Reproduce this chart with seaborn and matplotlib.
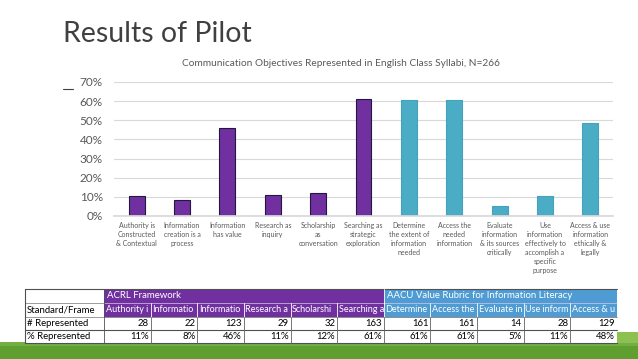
import matplotlib
matplotlib.use("Agg")
import matplotlib.pyplot as plt
import seaborn as sns
import pandas as pd
from matplotlib.patches import Rectangle
from matplotlib.lines import Line2D

# ---------------- data ----------------
categories = [
    "Authority is\nConstructed\n& Contextual",
    "Information\ncreation is a\nprocess",
    "Information\nhas value",
    "Research as\ninquiry",
    "Scholarship\nas\nconversation",
    "Searching as\nstrategic\nexploration",
    "Determine\nthe extent of\ninformation\nneeded",
    "Access the\nneeded\ninformation",
    "Evaluate\ninformation\n& its sources\ncritically",
    "Use\ninformation\neffectively to\naccomplish a\nspecific\npurpose",
    "Access & use\ninformation\nethically &\nlegally",
]
table_headers = ["Authority i", "Informatio", "Informatio", "Research a", "Scholarshi",
                 "Searching a", "Determine", "Access the", "Evaluate in", "Use inform",
                 "Access & u"]
groups = ["ACRL"] * 6 + ["AACU"] * 5
pct_values = [10.5, 8.3, 46.2, 10.9, 12.0, 61.3, 60.5, 60.5, 5.3, 10.5, 48.5]
counts = [28, 22, 123, 29, 32, 163, 161, 161, 14, 28, 129]
pct_labels = ["11%", "8%", "46%", "11%", "12%", "61%", "61%", "61%", "5%", "11%", "48%"]
yticks = [0, 10, 20, 30, 40, 50, 60, 70]
row_labels = ["", "Standard/Frame", "# Represented", "% Represented"]
group_titles = ["ACRL Framework", "AACU Value Rubric for Information Literacy"]

PURPLE = "#7030A0"
CYAN = "#4BACC6"
TBL_BLUE = "#4F9BD3"
GRAY = "#595959"

sns.set_theme(style="white")
plt.rcParams["font.family"] = ["Lato", "DejaVu Sans"]

W, H = 638, 359
fig = plt.figure(figsize=(W / 100, H / 100), dpi=100)
fig.patch.set_facecolor("white")


def fx(x):
    return x / W


def fy(y):
    return 1 - y / H


# ---------------- titles ----------------
fig.text(fx(63), fy(42), "Results of Pilot", fontsize=20.5, color="#404040",
         fontweight="normal", va="baseline", ha="left")
fig.add_artist(Line2D([fx(63), fx(73)], [fy(89), fy(89)], color="#404040", lw=0.8,
                      transform=fig.transFigure))
fig.text(fx(341), fy(63), "Communication Objectives Represented in English Class Syllabi, N=266",
         fontsize=7.3, color=GRAY, ha="center", va="center")

# ---------------- chart ----------------
ax = fig.add_axes([fx(114), fy(216), (613 - 114) / W, (216 - 82) / H])
df = pd.DataFrame({"cat": categories, "pct": pct_values, "group": groups})
sns.barplot(data=df, x="cat", y="pct", hue="group",
            palette={"ACRL": PURPLE, "AACU": CYAN}, dodge=False, width=0.35,
            saturation=1, legend=False, ax=ax)
for p, g in zip(sorted(ax.patches, key=lambda r: r.get_x()), groups):
    if g == "ACRL":
        p.set_edgecolor("#201A40")
    else:
        p.set_edgecolor("#46A2BA")
    p.set_linewidth(0.8)

ax.set_xlim(-0.5, len(categories) - 0.5)
ax.set_ylim(0, 70)
ax.set_yticks(yticks)
ax.set_yticklabels([f"{v}%" for v in yticks])
ax.yaxis.grid(True, color="#D9D9D9", lw=0.8)
ax.set_axisbelow(True)
for s in ["top", "right", "left"]:
    ax.spines[s].set_visible(False)
ax.spines["bottom"].set_color("#D9D9D9")
ax.tick_params(axis="y", length=0, labelsize=8.5, colors=GRAY, pad=8)
ax.tick_params(axis="x", length=0, labelsize=5, colors=GRAY, pad=4)
for t in ax.get_xticklabels():
    t.set_linespacing(1.35)
ax.set_xlabel("")
ax.set_ylabel("")

# ---------------- green band ----------------
fig.add_artist(Rectangle((0, 0), 1, fy(342), transform=fig.transFigure,
                         facecolor="#5E9F30", edgecolor="none", zorder=0))
fig.add_artist(Rectangle((0, fy(346)), 1, fy(342) - fy(346), transform=fig.transFigure,
                         facecolor="#73AE45", edgecolor="none", zorder=0))
fig.add_artist(Rectangle((fx(612), fy(343)), 1 - fx(612), fy(332) - fy(343),
                         transform=fig.transFigure,
                         facecolor="#8CC152", edgecolor="none", zorder=0))

# ---------------- table ----------------
rows_y = [289, 303, 317, 330, 343]
x0, x1 = 25, 104
cw = (617 - 104) / 11
col_x = [x1 + i * cw for i in range(12)]
FS = 6.9


def rect(xa, ya, xb, yb, fc, ec="none", lw=0.0, z=2):
    fig.add_artist(Rectangle((fx(xa), fy(yb)), fx(xb) - fx(xa), fy(ya) - fy(yb),
                             transform=fig.transFigure, facecolor=fc,
                             edgecolor=ec, linewidth=lw, zorder=z))


def line(xa, ya, xb, yb, c="#8C8C8C", lw=0.6, z=4):
    fig.add_artist(Line2D([fx(xa), fx(xb)], [fy(ya), fy(yb)], color=c, lw=lw,
                          transform=fig.transFigure, zorder=z))


rect(x0, rows_y[0], col_x[-1], rows_y[-1], "white", z=1)
rect(col_x[0], rows_y[0], col_x[6], rows_y[2], PURPLE)
rect(col_x[6], rows_y[0], col_x[11], rows_y[2], TBL_BLUE)

fig.text(fx(col_x[0] + 3), fy((rows_y[0] + rows_y[1]) / 2), group_titles[0],
         fontsize=FS, color="white", va="center", ha="left", zorder=5)
fig.text(fx(col_x[6] + 3), fy((rows_y[0] + rows_y[1]) / 2), group_titles[1],
         fontsize=FS, color="white", va="center", ha="left", zorder=5)

for r, lab in enumerate(row_labels):
    if lab:
        fig.text(fx(x0 + 2), fy((rows_y[r] + rows_y[r + 1]) / 2), lab,
                 fontsize=FS, color="black", va="center", ha="left", zorder=5)

for i, hdr in enumerate(table_headers):
    xa, xb = col_x[i], col_x[i + 1]
    fig.text(fx(xa + 1.5), fy((rows_y[1] + rows_y[2]) / 2), hdr,
             fontsize=FS - 0.4, color="white", va="center", ha="left", zorder=5)
    fig.text(fx(xb - 2), fy((rows_y[2] + rows_y[3]) / 2), str(counts[i]),
             fontsize=FS, color="black", va="center", ha="right", zorder=5)
    fig.text(fx(xb - 2), fy((rows_y[3] + rows_y[4]) / 2), pct_labels[i],
             fontsize=FS, color="black", va="center", ha="right", zorder=5)

for r, y in enumerate(rows_y):
    if r in (1, 2):
        line(x0, y, x1, y)
        line(x1, y, col_x[-1], y, c="#D8C8E8" if r == 1 else "#606060", lw=0.5)
    else:
        line(x0, y, col_x[-1], y, c="#505050", lw=0.8)
line(x0, rows_y[0], x0, rows_y[-1], c="#505050", lw=0.8)
line(x1, rows_y[0], x1, rows_y[-1], c="#505050", lw=0.6)
for i in range(1, 11):
    line(col_x[i], rows_y[1], col_x[i], rows_y[2], c="white", lw=0.6)
    line(col_x[i], rows_y[2], col_x[i], rows_y[4], c="#606060", lw=0.6)
line(col_x[6], rows_y[0], col_x[6], rows_y[1], c="white", lw=0.6)

fig.savefig("out.png", dpi=100)
